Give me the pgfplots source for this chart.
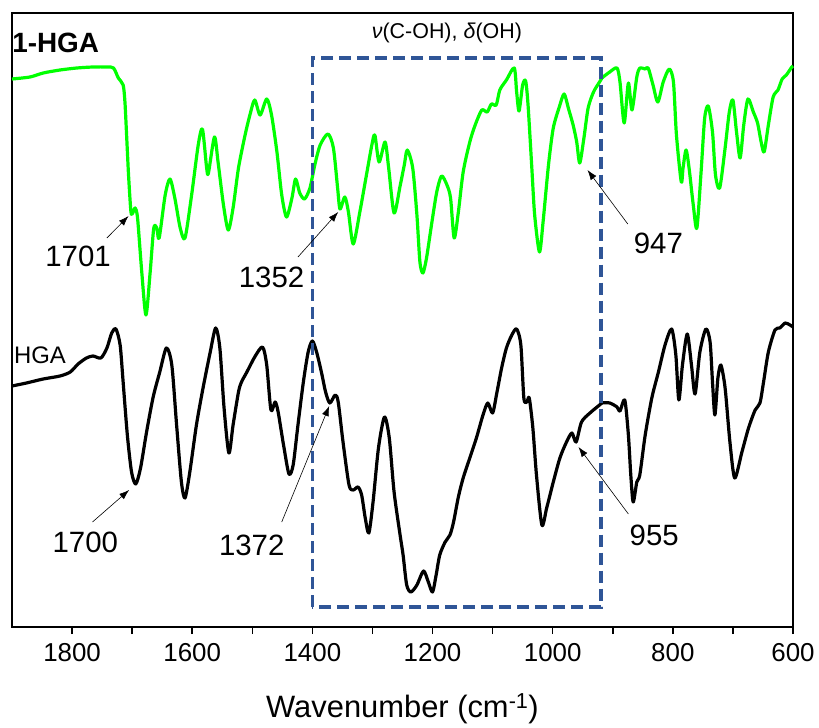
\documentclass[border=0pt]{standalone}
\usepackage{pgfplots}
\pgfplotsset{compat=1.18}
\usepackage{fontspec}
\setmainfont{Liberation Sans}
\usetikzlibrary{arrows.meta}
\definecolor{irgreen}{RGB}{0,255,0}
\definecolor{boxblue}{RGB}{47,85,151}

\begin{document}
\begin{tikzpicture}
\path[use as bounding box] (-12bp,-101bp) rectangle (807bp,627bp);
\begin{axis}[
  scale only axis, width=781bp, height=614bp,
  x dir=reverse, xmin=600, xmax=1900, ymin=101, ymax=715,
  xtick={600,800,...,1800}, minor xtick={700,900,...,1700},
  xtick pos=bottom, ytick=\empty,
  tick align=outside, major tick length=7bp, minor tick length=7bp,
  tick style={black, line width=1.5bp},
  minor tick style={black, line width=1.5bp},
  line width=1.8bp,
  /pgf/number format/assume math mode=true,
  /pgf/number format/1000 sep={},
  xticklabel style={font=\fontsize{26}{30}\selectfont, yshift=-5bp},
  xlabel={Wavenumber (cm\textsuperscript{-1})},
  xlabel style={font=\fontsize{31}{36}\selectfont, at={(axis description cs:0.5,-0.148)}, anchor=base},
  clip=false,
]
% 1-HGA (green)
\addplot[irgreen, line width=3.2bp, line join=round, smooth, tension=0.45, mark=none] table {
1900 649
1870 651
1848 655
1820 658
1792 660
1765 661
1742 661
1731 660
1723 650
1715 643
1712 626
1709 590
1706 553
1702 516
1699 515
1695 520
1691 510
1684 456
1677 413
1670 456
1664 500
1659 500
1655 490
1645 533
1637 549
1629 530
1620 500
1612 490
1601 533
1590 583
1583 599
1576 560
1573 555
1563 591
1557 566
1548 523
1540 498
1532 520
1523 560
1512 593
1504 613
1496 628
1487 613
1476 629
1468 613
1459 576
1451 533
1443 511
1434 530
1428 549
1421 535
1413 529
1404 540
1396 563
1387 583
1374 594
1365 580
1358 540
1354 519
1346 531
1340 516
1332 484
1321 516
1310 553
1301 583
1296 593
1289 566
1279 586
1273 560
1264 515
1254 542
1247 563
1242 578
1233 560
1226 513
1221 466
1216 455
1210 470
1201 506
1193 536
1185 552
1176 543
1170 530
1164 490
1157 516
1149 556
1138 586
1129 603
1118 618
1109 616
1102 624
1094 623
1088 638
1077 648
1064 660
1060 636
1056 617
1050 643
1045 647
1041 623
1035 563
1030 513
1022 476
1016 506
1007 563
999 600
989 621
981 634
974 620
966 603
960 586
955 565
948 590
941 620
932 636
922 646
918 650
905 656
893 660
888 646
881 605
874 645
868 618
860 651
855 660
846 659
841 660
833 643
825 626
816 646
806 659
799 646
794 593
786 546
783 560
778 578
773 560
766 523
760 500
753 556
747 610
741 622
734 596
729 553
722 540
713 580
706 616
700 628
694 596
688 570
682 603
675 629
666 616
659 605
653 586
648 576
641 603
633 631
625 638
618 649
611 653
602 661
600 662
};
% HGA (black)
\addplot[black, line width=3.2bp, line join=round, smooth, tension=0.45, mark=none] table {
1900 342
1876 345
1848 349
1820 352
1803 356
1790 364
1776 370
1765 372
1752 370
1742 380
1734 395
1727 399
1720 383
1715 346
1708 293
1701 256
1694 244
1686 260
1676 296
1665 331
1654 356
1643 380
1634 363
1626 303
1618 246
1612 230
1604 256
1593 303
1582 340
1570 376
1561 400
1554 380
1547 320
1539 275
1532 303
1523 336
1518 346
1509 356
1496 371
1483 381
1476 363
1469 318
1462 326
1457 316
1448 283
1439 254
1432 263
1424 303
1415 346
1407 376
1400 387
1393 376
1385 356
1378 336
1371 325
1362 333
1357 326
1349 286
1339 243
1332 238
1324 241
1318 233
1312 210
1306 195
1299 226
1290 280
1280 311
1272 290
1264 236
1254 193
1249 173
1243 143
1236 136
1226 143
1215 157
1207 146
1200 136
1194 153
1188 173
1179 186
1171 193
1165 206
1157 231
1149 250
1138 270
1127 290
1116 313
1108 325
1100 315
1093 335
1085 360
1077 380
1068 393
1060 399
1053 383
1048 330
1043 326
1039 330
1033 300
1027 253
1018 203
1010 220
999 246
988 270
977 286
968 295
961 286
952 306
938 315
922 323
918 325
905 325
893 321
888 317
880 328
874 293
870 253
866 226
860 246
855 253
846 293
835 330
824 356
813 383
802 399
795 373
790 328
784 363
776 394
769 363
763 334
755 376
745 399
738 386
734 346
730 313
725 350
720 363
713 340
705 286
697 250
685 276
674 300
663 318
655 325
649 346
641 376
630 398
622 400
613 405
605 403
600 401
};
% dashed region
\draw[boxblue, line width=3.5bp, dash pattern=on 12bp off 6bp] (axis cs:1400,121) rectangle (axis cs:920,670);
% annotations
\tikzset{ann/.style={line width=0.6bp, black, -{Latex[length=10bp,width=7bp]}},
         lab/.style={font=\fontsize{29.5}{34}\selectfont, inner sep=0pt}}
\draw[ann] (axis cs:1742,490) -- (axis cs:1706,512);
\node[lab] at (axis cs:1790,472) {1701};
\draw[ann] (axis cs:1424,471) -- (axis cs:1357,516);
\node[lab] at (axis cs:1468,451) {1352};
\draw[ann] (axis cs:875,504) -- (axis cs:942,558);
\node[lab] at (axis cs:824,485) {947};
\draw[ann] (axis cs:1766,206) -- (axis cs:1705,238);
\node[lab] at (axis cs:1778,186) {1700};
\draw[ann] (axis cs:1451,206) -- (axis cs:1372,322);
\node[lab] at (axis cs:1501,183) {1372};
\draw[ann] (axis cs:874,214) -- (axis cs:957,281);
\node[lab] at (axis cs:831,193) {955};
\node[anchor=west, inner sep=0pt, font=\bfseries\fontsize{28}{32}\selectfont] at (axis cs:1901,685) {1-HGA};
\node[anchor=west, inner sep=0pt, font=\fontsize{24}{28}\selectfont] at (axis cs:1898,373) {HGA};
\node[inner sep=0pt, font=\fontsize{21.5}{25}\selectfont] at (axis cs:1176,695) {\textit{ν}(C-OH), \textit{δ}(OH)};
\end{axis}
\end{tikzpicture}
\end{document}
